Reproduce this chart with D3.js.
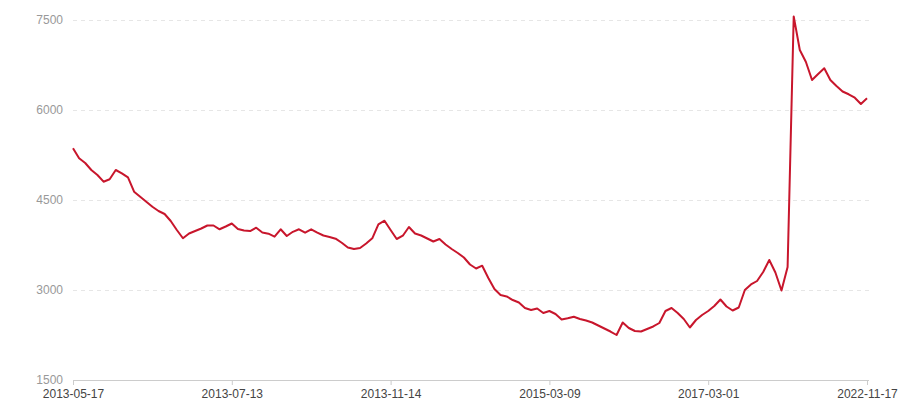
<!DOCTYPE html>
<html>
<head>
<meta charset="utf-8">
<script src="https://cdn.jsdelivr.net/npm/d3@7"></script>
<style>
  body { margin: 0; background: #fff; }
  svg text { font-family: "Liberation Sans", Arial, sans-serif; }
</style>
</head>
<body>
<script>
// price series, one value per category (131 points)
var values = [5362, 5195, 5117, 5000, 4917, 4805, 4845, 5000, 4945, 4878,
  4638, 4555, 4472, 4388, 4317, 4267, 4150, 4000, 3862, 3942,
  3983, 4025, 4075, 4075, 4012, 4058, 4108, 4017, 3992, 3983,
  4038, 3958, 3938, 3888, 4012, 3900, 3970, 4012, 3955, 4012,
  3955, 3908, 3883, 3855, 3788, 3708, 3683, 3700, 3775, 3862,
  4095, 4155, 4000, 3850, 3905, 4050, 3942, 3908, 3858, 3808,
  3850, 3758, 3683, 3617, 3542, 3425, 3358, 3405, 3200, 3017,
  2917, 2892, 2833, 2792, 2700, 2667, 2692, 2617, 2650, 2600,
  2508, 2528, 2555, 2517, 2492, 2458, 2408, 2358, 2308, 2250,
  2458, 2367, 2317, 2308, 2350, 2392, 2450, 2650, 2700, 2617,
  2517, 2375, 2500, 2583, 2650, 2733, 2842, 2725, 2658, 2708,
  3000, 3092, 3150, 3300, 3500, 3292, 2992, 3383, 7560, 7000,
  6800, 6500, 6600, 6695, 6500, 6400, 6308, 6262, 6205, 6100,
  6195];

// category labels shown on the x axis and the point index they sit at
var dateLabels = ["2013-05-17", "2013-07-13", "2013-11-14", "2015-03-09", "2017-03-01", "2022-11-17"];
var dateIndex = [0, 26, 52, 78, 104, 130];

var yTicks = [1500, 3000, 4500, 6000, 7500];

var w = 900, h = 400;
var padL = 73, padR = 867, padT = 20, padB = 380;

var svg = d3.select("body").append("svg")
    .attr("width", w)
    .attr("height", h);

var x = d3.scaleLinear()
    .domain([0, values.length - 1])
    .range([padL, padR]);

var y = d3.scaleLinear()
    .domain([1500, 7500])
    .range([padB, padT]);

// dashed grid lines
svg.selectAll("line.grid")
    .data(yTicks.slice(1))
    .enter()
    .append("line")
    .attr("class", "grid")
    .attr("x1", padL)
    .attr("x2", 871)
    .attr("y1", function (d) { return y(d) + 0.5; })
    .attr("y2", function (d) { return y(d) + 0.5; })
    .attr("stroke", "#e6e6e6")
    .attr("stroke-width", 1)
    .attr("stroke-dasharray", "4,4");

// y axis labels only, no line
var yAxis = svg.append("g")
    .attr("transform", "translate(" + padL + ",0)")
    .call(d3.axisLeft(y).tickValues(yTicks).tickFormat(d3.format("d")).tickSize(0).tickPadding(10));
yAxis.select(".domain").remove();
yAxis.selectAll("text")
    .attr("fill", "#999")
    .attr("font-size", "12px")
    .style("font-family", "Liberation Sans, Arial, sans-serif");

// x axis
var xAxis = svg.append("g")
    .attr("transform", "translate(0," + padB + ")")
    .call(d3.axisBottom(x)
        .tickValues(dateIndex)
        .tickFormat(function (d, i) { return dateLabels[i]; })
        .tickSizeOuter(0)
        .tickSize(5)
        .tickPadding(4));
xAxis.select(".domain").attr("stroke", "#ccc").attr("d", "M" + padL + ",0.5H" + (padR + 2));
xAxis.selectAll(".tick line").attr("stroke", "#ccc");
xAxis.selectAll("text")
    .attr("fill", "#444")
    .attr("font-size", "12px")
    .style("font-family", "Liberation Sans, Arial, sans-serif");

// the line
var line = d3.line()
    .x(function (d, i) { return x(i); })
    .y(function (d) { return y(d); });

svg.append("path")
    .datum(values)
    .attr("d", line)
    .attr("fill", "none")
    .attr("stroke", "#c8162c")
    .attr("stroke-width", 2)
    .attr("stroke-linejoin", "round");
</script>
</body>
</html>
